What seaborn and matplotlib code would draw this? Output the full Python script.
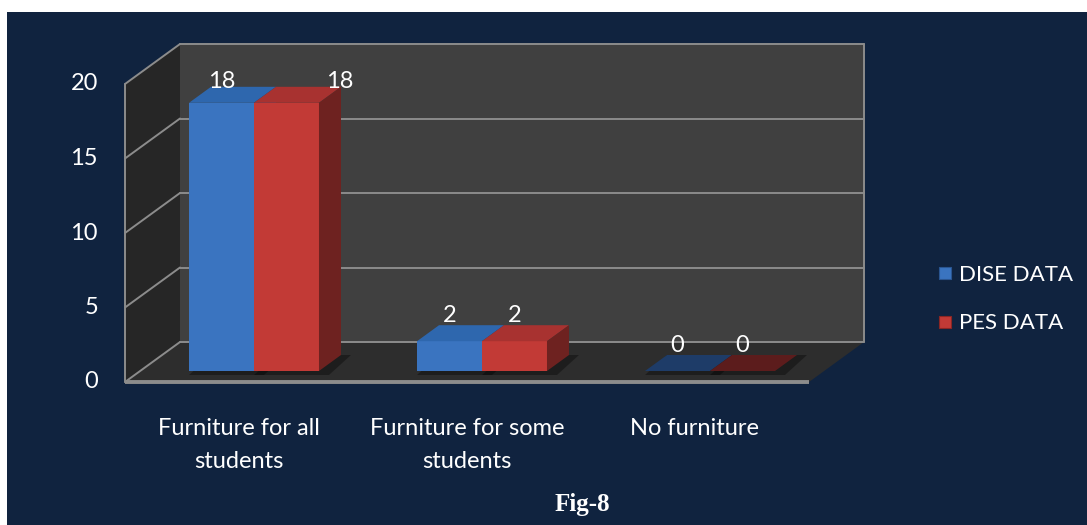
import numpy as np
import pandas as pd
import matplotlib
matplotlib.use("Agg")
import matplotlib.pyplot as plt
import seaborn as sns
from matplotlib.patches import Polygon, Rectangle
from matplotlib.lines import Line2D

# ---------------- data ----------------
categories = ["Furniture for all\nstudents", "Furniture for some\nstudents", "No furniture"]
series = ["DISE DATA", "PES DATA"]
dise_values = [18, 2, 0]
pes_values = [18, 2, 0]
y_ticks = [0, 5, 10, 15, 20]
title = "Fig-8"

# ---------------- style ----------------
sns.set_style("white")
plt.rcParams["font.family"] = ["Lato", "DejaVu Sans"]

W, H, DPI = 1087, 525, 100
NAVY = "#10233F"
BLUE, RED = "#3A74C0", "#C23A36"
BLUE_TOP, RED_TOP = "#2E67AE", "#A83230"
BLUE_SIDE, RED_SIDE = "#244E85", "#6E2220"
BLUE_FLAT, RED_FLAT = "#1E3C68", "#5C1C1C"
GRID = "#8C8C8C"
FS = 17

fig = plt.figure(figsize=(W / DPI, H / DPI), dpi=DPI, facecolor="white")
fig.patches.append(Rectangle((7 / W, 0), 1 - 7 / W, 1 - 12 / H, transform=fig.transFigure,
                             facecolor=NAVY, edgecolor="none", zorder=-10))

ax = fig.add_axes([140 / W, (H - 371) / H, 684 / W, 298 / H])
ax.set_facecolor("none")

df = pd.DataFrame({
    "category": categories * 2,
    "series": [series[0]] * 3 + [series[1]] * 3,
    "value": dise_values + pes_values,
})
sns.barplot(data=df, x="category", y="value", hue="series", palette=[BLUE, RED],
            width=0.57, saturation=1, errorbar=None, legend=False, ax=ax,
            edgecolor="none", linewidth=0)

x0, x1 = -0.5, len(categories) - 0.5
y0, y1 = y_ticks[0], y_ticks[-1]
ax.set_xlim(x0, x1)
ax.set_ylim(y0, y1)
for s in ax.spines.values():
    s.set_visible(False)
ax.set_xticks([])
ax.set_yticks([])
ax.set_xlabel("")
ax.set_ylabel("")

bb = ax.get_window_extent()
sx = bb.width / (x1 - x0)
sy = bb.height / (y1 - y0)


def off(dxp, dyp):
    return dxp / sx, dyp / sy


FX, FY = off(-15, -11)   # front plane
BX, BY = off(40, 29)     # back wall plane
DX, DY = off(22, 16)     # bar depth


def poly(pts, color, z, **kw):
    ax.add_patch(Polygon(pts, closed=True, facecolor=color, edgecolor="none",
                         zorder=z, clip_on=False, **kw))


# walls and floor
poly([(x0 + BX, y0 + BY), (x1 + BX, y0 + BY), (x1 + BX, y1 + BY), (x0 + BX, y1 + BY)], "#404040", 0)
poly([(x0 + FX, y0 + FY), (x0 + BX, y0 + BY), (x0 + BX, y1 + BY), (x0 + FX, y1 + FY)], "#262626", 0)
poly([(x0 + FX, y0 + FY), (x1 + FX, y0 + FY), (x1 + BX, y0 + BY), (x0 + BX, y0 + BY)], "#2D2D2D", 0.5)

for t in y_ticks:
    ax.plot([x0 + BX, x1 + BX], [t + BY, t + BY], color=GRID, lw=1.4, zorder=0.6, clip_on=False)
    ax.plot([x0 + FX, x0 + BX], [t + FY, t + BY], color=GRID, lw=1.4, zorder=0.6, clip_on=False)
    ax.annotate(str(t), xy=(x0 + FX, t + FY), xytext=(-27, 0), textcoords="offset pixels",
                ha="right", va="center", color="white", fontsize=FS, annotation_clip=False)
ax.plot([x0 + FX, x0 + FX], [y0 + FY, y1 + FY], color=GRID, lw=1.4, zorder=0.6, clip_on=False)
ax.plot([x1 + BX, x1 + BX], [y0 + BY, y1 + BY], color=GRID, lw=1.4, zorder=0.6, clip_on=False)
ax.plot([x0 + FX, x1 + FX], [y0 + FY, y0 + FY], color=GRID, lw=2.8, zorder=0.7, clip_on=False,
        solid_capstyle="butt")

# 3D faces on seaborn bars
tops = [BLUE_TOP, RED_TOP]
sides = [BLUE_SIDE, RED_SIDE]
flats = [BLUE_FLAT, RED_FLAT]
sdx, _ = off(10, 0)
for hi, cont in enumerate(ax.containers):
    zf = 3 + 2 * hi
    for ci, bar in enumerate(cont):
        bar.set_zorder(zf)
        x = bar.get_x()
        w = bar.get_width()
        h = bar.get_height()
        # soft shadow on the floor
        _, sh = off(0, -4)
        poly([(x, sh), (x + w + sdx, sh), (x + w + sdx + DX, DY), (x + DX, DY)], "black", 1,
             alpha=0.35)
        top_c = flats[hi] if h == 0 else tops[hi]
        poly([(x, h), (x + w, h), (x + w + DX, h + DY), (x + DX, h + DY)], top_c, zf + 0.5)
        if h > 0:
            poly([(x + w, 0), (x + w, h), (x + w + DX, h + DY), (x + w + DX, DY)], sides[hi], zf + 0.5)
        # value label
        ldx = 53 if (hi == 1 and h == max(pes_values)) else 0
        ldy = 21 if h > 10 else 26
        ax.annotate(f"{h:g}", xy=(x + w / 2, h), xytext=(ldx, ldy), textcoords="offset pixels",
                    ha="center", va="center", color="white", fontsize=FS, zorder=10,
                    annotation_clip=False)

# category labels on the front plane
for i, cat in enumerate(categories):
    ax.annotate(cat, xy=(i + FX, y0 + FY), xytext=(0, -36), textcoords="offset pixels",
                ha="center", va="top", color="white", fontsize=FS, linespacing=1.72,
                annotation_clip=False)

# legend
handles = [Line2D([], [], marker="s", linestyle="none", markersize=8,
                  markerfacecolor=c, markeredgecolor=e, markeredgewidth=0.8)
           for c, e in [(BLUE, "#2A5590"), (RED, "#8A2624")]]
fig.legend(handles, series, loc="center left", bbox_to_anchor=(937 / W, 1 - 299 / H),
           frameon=False, fontsize=16, labelcolor="white", handlelength=0.7,
           handletextpad=0.3, labelspacing=1.3, borderpad=0, borderaxespad=0)

fig.text(582 / W, 1 - 505 / H, title, ha="center", va="center", color="white",
         fontsize=18, fontweight="bold", family=["Liberation Serif", "DejaVu Serif"])

fig.savefig("out.png", dpi=DPI, facecolor=fig.get_facecolor())
